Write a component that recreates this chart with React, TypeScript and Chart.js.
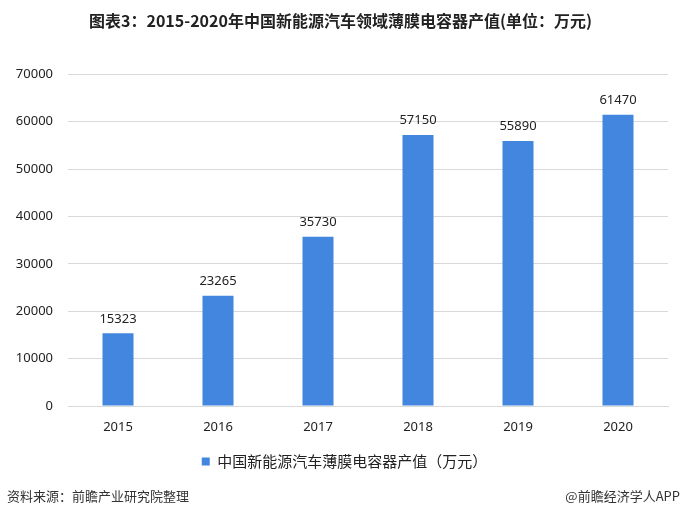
import React, { useEffect, useRef } from "react";
import { Chart, registerables } from "chart.js";

Chart.register(...registerables);

const categories = ["2015", "2016", "2017", "2018", "2019", "2020"];
const values = [15323, 23265, 35730, 57150, 55890, 61470];
const seriesName = "中国新能源汽车薄膜电容器产值（万元）";
const titleText = "图表3：2015-2020年中国新能源汽车领域薄膜电容器产值(单位：万元)";
const sourceText = "资料来源：前瞻产业研究院整理";
const brandText = "@前瞻经济学人APP";

const CJK = '"Noto Sans CJK SC", "Noto Sans", sans-serif';
const NUM = '"Noto Sans", "Noto Sans CJK SC", sans-serif';

const valueLabels = {
  id: "valueLabels",
  afterDatasetsDraw(chart: any) {
    const ctx = chart.ctx;
    const meta = chart.getDatasetMeta(0);
    ctx.save();
    ctx.font = `13px ${NUM}`;
    ctx.fillStyle = "#222222";
    ctx.textAlign = "center";
    ctx.textBaseline = "bottom";
    meta.data.forEach((bar: any, i: number) => {
      const v = chart.data.datasets[0].data[i];
      ctx.fillText(String(v), bar.x, bar.y - 8);
    });
    ctx.restore();
  },
};

const legendShift = {
  id: "legendShift",
  afterLayout(chart: any) {
    const lg = chart.legend;
    if (lg) {
      lg.left += 4;
      lg.right += 4;
    }
  },
};

export default function App() {
  const ref = useRef<HTMLCanvasElement | null>(null);
  useEffect(() => {
    if (!ref.current) return;
    const chart = new Chart(ref.current, {
      type: "bar",
      data: {
        labels: categories,
        datasets: [
          {
            label: seriesName,
            data: values,
            backgroundColor: "#4286E0",
            borderWidth: 0,
            barPercentage: 0.31,
            categoryPercentage: 1,
          },
        ],
      },
      options: {
        animation: false,
        responsive: true,
        maintainAspectRatio: false,
        devicePixelRatio: 1,
        layout: { padding: { left: 13, right: 13, top: 0, bottom: 37 } },
        plugins: {
          title: {
            display: true,
            text: titleText,
            color: "#222222",
            font: { family: CJK, size: 16, weight: "bold" },
            padding: { top: 11, bottom: 44 },
          },
          legend: {
            display: true,
            position: "bottom",
            labels: {
              boxWidth: 8,
              boxHeight: 8,
              color: "#222222",
              font: { family: CJK, size: 15 },
              padding: 10,
            },
          },
          tooltip: { enabled: false },
        },
        scales: {
          x: {
            grid: { display: false, drawTicks: false },
            border: { display: true, color: "#d9d9d9" },
            ticks: {
              color: "#222222",
              font: { family: NUM, size: 13 },
              padding: 13,
            },
            afterFit: (scale: any) => {
              scale.height = 38;
            },
          },
          y: {
            min: 0,
            max: 70000,
            grid: { color: "#d9d9d9", drawTicks: false },
            border: { display: false },
            ticks: {
              stepSize: 10000,
              color: "#222222",
              font: { family: NUM, size: 13 },
              padding: 15,
              callback: (v: any) => String(v),
            },
            afterFit: (scale: any) => {
              scale.width = 55;
            },
          },
        },
      },
      plugins: [valueLabels, legendShift],
    });
    return () => chart.destroy();
  }, []);

  return (
    <div
      style={{
        position: "absolute",
        left: 0,
        top: 0,
        width: 681,
        height: 516,
        background: "#ffffff",
        overflow: "hidden",
      }}
    >
      <canvas ref={ref} />
      <div
        style={{
          position: "absolute",
          left: 7,
          top: 488,
          fontFamily: CJK,
          fontSize: 13,
          lineHeight: "16px",
          color: "#333333",
          whiteSpace: "nowrap",
        }}
      >
        {sourceText}
      </div>
      <div
        style={{
          position: "absolute",
          right: 1,
          top: 488,
          fontFamily: CJK,
          fontSize: 13,
          lineHeight: "16px",
          color: "#333333",
          whiteSpace: "nowrap",
        }}
      >
        {brandText}
      </div>
    </div>
  );
}
